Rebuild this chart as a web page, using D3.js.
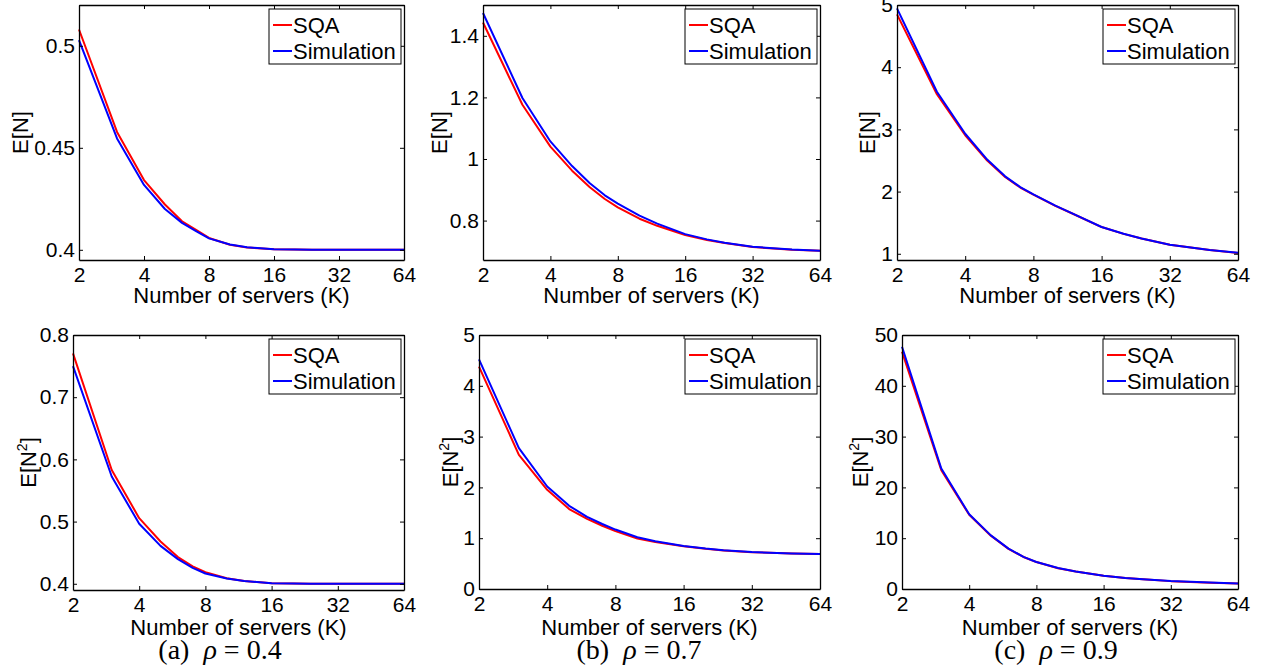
<!DOCTYPE html>
<html>
<head>
<meta charset="utf-8">
<script src="https://cdn.jsdelivr.net/npm/d3@7"></script>
<style>
  html, body { margin: 0; padding: 0; background: #fff; }
  svg { display: block; }
</style>
</head>
<body>
<svg id="chart" width="1276" height="672"></svg>
<script>
// ---------- data ----------
const servers = [2, 3, 4, 5, 6, 7, 8, 10, 12, 16, 20, 24, 32, 48, 64];
const xTickValues = [2, 4, 8, 16, 32, 64];
const seriesNames = ["SQA", "Simulation"];

// E[N], rho = 0.4
const sqaEN04 = [0.508, 0.4578, 0.4342, 0.4222, 0.4140, 0.4097, 0.4058, 0.4025, 0.4011, 0.4003, 0.4001, 0.4000, 0.4000, 0.4000, 0.4000];
const simEN04 = [0.5028, 0.4546, 0.4318, 0.4200, 0.4132, 0.4090, 0.4056, 0.4026, 0.4012, 0.4003, 0.4001, 0.4000, 0.4000, 0.4000, 0.4000];
// E[N], rho = 0.7
const sqaEN07 = [1.443, 1.176, 1.040, 0.962, 0.908, 0.870, 0.843, 0.806, 0.783, 0.753, 0.737, 0.727, 0.714, 0.705, 0.702];
const simEN07 = [1.474, 1.198, 1.057, 0.977, 0.921, 0.882, 0.855, 0.816, 0.790, 0.756, 0.739, 0.728, 0.715, 0.706, 0.702];
// E[N], rho = 0.9
const sqaEN09 = [4.85, 3.565, 2.905, 2.50, 2.235, 2.065, 1.950, 1.770, 1.640, 1.430, 1.320, 1.245, 1.145, 1.060, 1.013];
const simEN09 = [4.945, 3.605, 2.930, 2.515, 2.245, 2.072, 1.955, 1.773, 1.642, 1.431, 1.321, 1.246, 1.146, 1.061, 1.015];
// E[N^2], rho = 0.4
const sqaEN2_04 = [0.7705, 0.583, 0.5055, 0.468, 0.443, 0.428, 0.4187, 0.409, 0.4045, 0.401, 0.4003, 0.4001, 0.4000, 0.4000, 0.4000];
const simEN2_04 = [0.750, 0.5725, 0.4965, 0.461, 0.4397, 0.4255, 0.4165, 0.4085, 0.4043, 0.401, 0.4003, 0.4001, 0.4000, 0.4000, 0.4000];
// E[N^2], rho = 0.7
const sqaEN2_07 = [4.377, 2.641, 1.953, 1.573, 1.38, 1.245, 1.14, 0.995, 0.925, 0.840, 0.790, 0.760, 0.725, 0.698, 0.690];
const simEN2_07 = [4.52, 2.772, 2.018, 1.638, 1.42, 1.28, 1.17, 1.02, 0.94, 0.845, 0.795, 0.763, 0.727, 0.699, 0.690];
// E[N^2], rho = 0.9
const sqaEN2_09 = [46.7, 23.4, 14.6, 10.5, 7.9, 6.3, 5.3, 4.1, 3.45, 2.6, 2.15, 1.9, 1.55, 1.25, 1.1];
const simEN2_09 = [47.7, 23.7, 14.7, 10.55, 7.95, 6.33, 5.32, 4.12, 3.46, 2.61, 2.16, 1.91, 1.56, 1.26, 1.1];

// y ticks
const yTicksEN04 = [0.4, 0.45, 0.5];
const yTicksEN07 = [0.8, 1, 1.2, 1.4];
const yTicksEN09 = [1, 2, 3, 4, 5];
const yTicksEN2_04 = [0.4, 0.5, 0.6, 0.7, 0.8];
const yTicksEN2_07 = [0, 1, 2, 3, 4, 5];
const yTicksEN2_09 = [0, 10, 20, 30, 40, 50];

const yDomEN04 = [0.395, 0.52];
const yDomEN07 = [0.672, 1.5];
const yDomEN09 = [0.9, 5.0];
const yDomEN2_04 = [0.39, 0.8];
const yDomEN2_07 = [0, 5];
const yDomEN2_09 = [0, 50];

const captionLetters = ["(a)", "(b)", "(c)"];
const captionRhos = ["0.4", "0.7", "0.9"];

// ---------- layout (positions / styles) ----------
const panels = [
  { sqa: sqaEN04, sim: simEN04, ticks: yTicksEN04, dom: yDomEN04, sup: false,
    L: 79, R: 404, T: 5, B: 260, ylx: 28, xlb: 303 },
  { sqa: sqaEN07, sim: simEN07, ticks: yTicksEN07, dom: yDomEN07, sup: false,
    L: 483, R: 820, T: 5, B: 260, ylx: 447, xlb: 303 },
  { sqa: sqaEN09, sim: simEN09, ticks: yTicksEN09, dom: yDomEN09, sup: false,
    L: 897, R: 1238, T: 5, B: 260, ylx: 875, xlb: 303 },
  { sqa: sqaEN2_04, sim: simEN2_04, ticks: yTicksEN2_04, dom: yDomEN2_04, sup: true,
    L: 73, R: 404, T: 335, B: 590, ylx: 36, xlb: 635 },
  { sqa: sqaEN2_07, sim: simEN2_07, ticks: yTicksEN2_07, dom: yDomEN2_07, sup: true,
    L: 479, R: 820, T: 335, B: 589, ylx: 458, xlb: 635 },
  { sqa: sqaEN2_09, sim: simEN2_09, ticks: yTicksEN2_09, dom: yDomEN2_09, sup: true,
    L: 902, R: 1238, T: 335, B: 589, ylx: 868, xlb: 635 }
];
const captionX = [220, 639, 1056];
const captionY = 659;
const colors = { SQA: "#ff0000", Simulation: "#0000ff" };
const sansFont = "Liberation Sans, Arial, Helvetica, sans-serif";
const serifFont = "Liberation Serif, DejaVu Serif, serif";

const svg = d3.select("#chart");

function fmt(v) { return String(v); }

panels.forEach((p) => {
  const x = d3.scaleLog().base(2).domain([2, 64]).range([p.L, p.R]);
  const y = d3.scaleLinear().domain(p.dom).range([p.B, p.T]);
  const g = svg.append("g");

  // lines
  const line = d3.line().x((d) => x(d[0])).y((d) => y(d[1]));
  [["SQA", p.sqa], ["Simulation", p.sim]].forEach(([name, vals]) => {
    g.append("path")
      .datum(servers.map((k, i) => [k, vals[i]]))
      .attr("fill", "none")
      .attr("stroke", colors[name])
      .attr("stroke-width", 2)
      .attr("stroke-linejoin", "round")
      .attr("d", line);
  });

  // axes (box with inward ticks)
  const axB = g.append("g").attr("transform", `translate(0,${p.B})`)
    .call(d3.axisBottom(x).tickValues(xTickValues).tickFormat(fmt)
      .tickSizeInner(-4).tickSizeOuter(0).tickPadding(7));
  const axT = g.append("g").attr("transform", `translate(0,${p.T})`)
    .call(d3.axisTop(x).tickValues(xTickValues).tickFormat("")
      .tickSizeInner(-4).tickSizeOuter(0));
  const axL = g.append("g").attr("transform", `translate(${p.L},0)`)
    .call(d3.axisLeft(y).tickValues(p.ticks).tickFormat(fmt)
      .tickSizeInner(-4).tickSizeOuter(0).tickPadding(4));
  const axR = g.append("g").attr("transform", `translate(${p.R},0)`)
    .call(d3.axisRight(y).tickValues(p.ticks).tickFormat("")
      .tickSizeInner(-4).tickSizeOuter(0));
  [axB, axT, axL, axR].forEach((a) => {
    a.attr("font-family", sansFont).attr("font-size", 21);
    a.select(".domain").attr("stroke", "#000").attr("stroke-width", 1.3);
    a.selectAll(".tick line").attr("stroke", "#000").attr("stroke-width", 1);
    a.selectAll(".tick text").attr("fill", "#000");
  });

  // x label
  g.append("text")
    .attr("x", (p.L + p.R) / 2).attr("y", p.xlb)
    .attr("text-anchor", "middle")
    .attr("font-family", sansFont).attr("font-size", 22)
    .text("Number of servers (K)");

  // y label
  const yl = g.append("text")
    .attr("transform", `translate(${p.ylx},${(p.T + p.B) / 2}) rotate(-90)`)
    .attr("text-anchor", "middle")
    .attr("font-family", sansFont).attr("font-size", 22);
  if (p.sup) {
    yl.append("tspan").text("E[N");
    yl.append("tspan").attr("dy", -9).attr("font-size", 14).text("2");
    yl.append("tspan").attr("dy", 9).text("]");
  } else {
    yl.text("E[N]");
  }

  // legend
  const lw = 132, lh = 55;
  const lx = p.R - 3 - lw, ly = p.T + 4;
  const lg = g.append("g").attr("transform", `translate(${lx},${ly})`);
  lg.append("rect").attr("width", lw).attr("height", lh)
    .attr("fill", "#fff").attr("stroke", "#000").attr("stroke-width", 1);
  seriesNames.forEach((name, i) => {
    const cy = 16 + i * 26;
    lg.append("line").attr("x1", 4).attr("x2", 23).attr("y1", cy).attr("y2", cy)
      .attr("stroke", colors[name]).attr("stroke-width", 2);
    lg.append("text").attr("x", 24).attr("y", cy).attr("dy", "0.36em")
      .attr("font-family", sansFont).attr("font-size", 22)
      .text(name);
  });
});

// captions
captionLetters.forEach((c, i) => {
  const t = svg.append("text")
    .attr("x", captionX[i]).attr("y", captionY)
    .attr("text-anchor", "middle")
    .attr("font-family", serifFont).attr("font-size", 28);
  t.append("tspan").text(c + "\u2002");
  t.append("tspan").attr("font-style", "italic").text("\u03C1");
  t.append("tspan").text(" = " + captionRhos[i]);
});
</script>
</body>
</html>
